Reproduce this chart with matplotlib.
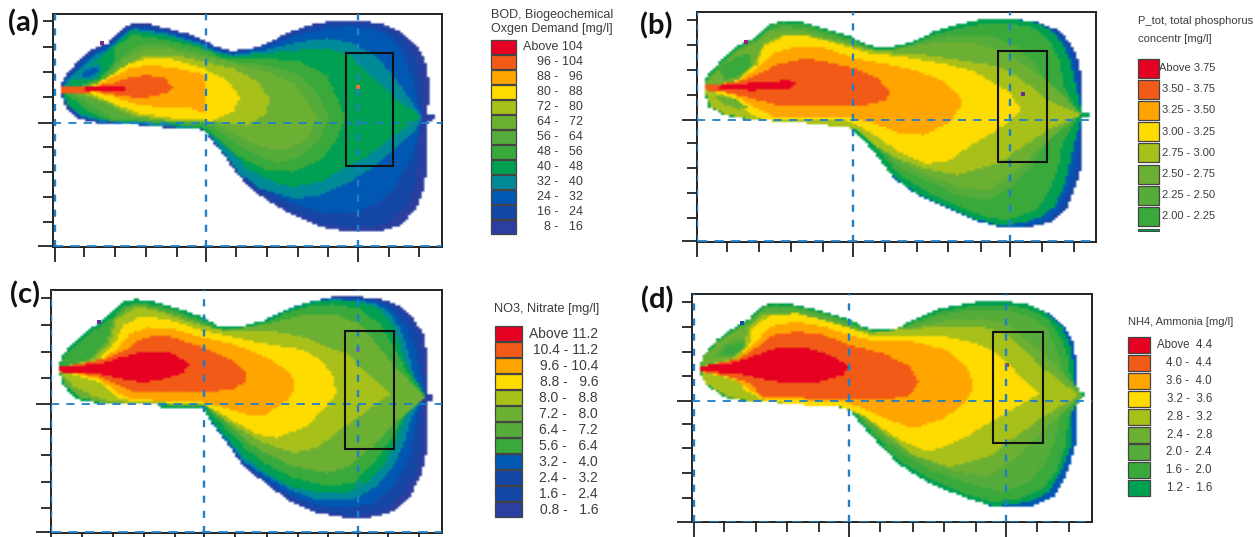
"""Four simulated plume maps (BOD, total P, nitrate, ammonia) with their legends.

Band outlines are digitised off the figure, one closed outline per concentration
class, in the plot's own x/y units. Each map is filled from outer class to inner,
and the few isolated patches in the side lobes come last.
"""
import numpy as np
import matplotlib

matplotlib.use("Agg")
import matplotlib.pyplot as plt
from matplotlib.colors import ListedColormap
from matplotlib.patches import Rectangle
from matplotlib.path import Path

C_ABOVE = "#e60022"
C_ORED = "#f25a17"
C_ORANGE = "#ffa500"
C_YELLOW = "#ffdc00"
C_LIME = "#a8c01a"
C_G1 = "#6cb033"
C_G2 = "#55ac3a"
C_G3 = "#3aa93c"
C_G4 = "#00a052"
C_TEAL = "#008a98"
C_BLUE = "#0058b2"
C_B2 = "#1547a6"
C_B3 = "#2b3f9f"

# (a) BOD
A_0 = [(185,262),(190,235),(215,205),(250,170),(290,140),(325,130),(345,105),(370,85),(405,68),(450,72),(500,85),(560,100),(610,118),(650,140),(695,152),(750,148),(800,130),(860,100),(930,75),(1000,62),(1080,62),(1150,72),(1210,100),(1250,140),(1275,180),(1285,240),(1285,300),(1282,342),(1300,345),(1300,360),(1280,362),(1282,420),(1282,500),(1270,570),(1245,630),(1200,675),(1140,692),(1040,693),(960,680),(880,645),(800,600),(740,555),(700,505),(660,450),(610,390),(580,383),(485,383),(480,370),(300,370),(240,358),(205,330),(190,300),(185,278)]
A_1 = [(188,250),(218,210),(253,175),(293,146),(328,134),(350,108),(375,90),(405,73),(450,77),(500,90),(560,105),(610,123),(650,145),(695,156),(750,152),(800,135),(860,105),(930,80),(1000,68),(1080,68),(1150,80),(1200,108),(1235,150),(1255,195),(1262,260),(1265,345),(1258,420),(1255,500),(1240,570),(1210,625),(1170,665),(1120,680),(1040,682),(960,668),(880,635),(800,590),(745,548),(705,500),(665,445),(612,385),(485,380),(300,366),(242,353),(210,325),(190,295)]
A_2 = [(188,252),(222,212),(258,180),(296,150),(335,135),(355,110),(400,80),(500,95),(600,125),(655,150),(700,160),(800,140),(870,112),(950,90),(1040,78),(1110,85),(1170,110),(1210,160),(1235,225),(1250,300),(1268,350),(1250,420),(1225,490),(1185,560),(1130,610),(1060,640),(960,635),(880,610),(800,570),(745,535),(700,490),(660,440),(610,385),(485,378),(300,364),(240,350),(210,322),(190,290)]
A_3 = [(190,258),(205,235),(240,208),(290,165),(335,140),(360,115),(400,85),(500,100),(600,130),(650,155),(700,165),(800,150),(900,125),(980,115),(1060,130),(1130,170),(1190,240),(1250,330),(1268,350),(1250,385),(1190,440),(1120,500),(1040,550),(960,585),(880,595),(780,565),(720,520),(680,470),(640,420),(610,388),(485,378),(300,362),(240,348),(210,320),(190,290)]
A_4 = [(190,262),(215,245),(255,215),(300,172),(345,135),(370,110),(400,92),(500,108),(600,135),(650,158),(700,170),(800,160),(900,150),(1000,150),(1050,165),(1130,245),(1190,300),(1265,350),(1190,400),(1100,470),(1040,500),(960,545),(880,560),(830,550),(750,510),(690,455),(640,410),(605,385),(485,370),(300,358),(240,340),(205,315),(192,285)]
A_5 = [(185,262),(230,262),(300,235),(340,190),(345,140),(400,105),(500,120),(610,145),(680,178),(800,175),(900,185),(980,225),(1010,290),(1035,350),(1010,420),(960,480),(880,515),(800,510),(720,470),(660,420),(610,380),(490,370),(330,362),(260,330),(210,290),(185,278)]
A_6 = [(185,262),(230,262),(300,240),(360,180),(420,130),(500,135),(610,160),(700,185),(800,195),(900,225),(960,290),(985,350),(960,415),(900,470),(830,490),(740,450),(680,410),(620,370),(480,365),(340,355),(280,320),(220,285),(185,278)]
A_7 = [(185,262),(230,265),(310,245),(375,175),(430,150),(520,150),(610,170),(700,190),(800,215),(880,250),(920,300),(950,350),(920,420),(850,450),(780,440),(700,400),(640,365),(480,358),(380,345),(310,310),(240,285),(185,278)]
A_8 = [(185,262),(240,265),(320,240),(380,195),(440,165),(520,165),(610,185),(700,205),(780,250),(810,300),(795,345),(740,375),(640,365),(520,365),(400,345),(320,305),(250,280),(185,278)]
A_9 = [(185,262),(260,266),(320,235),(380,195),(440,175),(520,178),(610,205),(680,240),(720,290),(700,335),(640,362),(520,355),(420,340),(340,310),(270,280),(185,278)]
A_10 = [(185,262),(270,265),(330,235),(390,205),(450,195),(530,205),(617,225),(617,340),(560,320),(480,322),(400,310),(340,290),(280,275),(185,278)]
A_11 = [(185,262),(255,262),(340,250),(380,235),(440,225),(490,232),(520,260),(500,280),(440,292),(380,290),(300,276),(185,278)]
A_12 = [(255,261),(375,261),(375,272),(255,272)]
A_LOBE_T = [(228,240),(255,205),(295,190),(310,210),(285,235)]
A_LOBE_B = [(240,232),(262,210),(290,200),(298,212),(275,228)]

# (b) total phosphorus
B_0 = [(192,255),(200,228),(240,185),(290,140),(340,115),(385,75),(430,62),(490,68),(560,88),(630,110),(670,130),(710,143),(760,140),(820,125),(880,95),(960,72),(1030,57),(1110,57),(1190,68),(1250,90),(1290,130),(1315,190),(1325,260),(1325,335),(1345,338),(1345,352),(1322,355),(1325,430),(1322,500),(1300,570),(1275,630),(1230,665),(1170,680),(1075,680),(1000,660),(920,625),(830,585),(760,535),(710,470),(670,420),(620,375),(505,372),(500,362),(330,360),(250,345),(205,320),(192,280)]
B_1 = [(192,255),(200,228),(240,185),(290,140),(340,115),(385,75),(430,62),(490,68),(560,88),(630,110),(670,130),(710,143),(760,140),(820,125),(880,95),(960,72),(1030,57),(1110,57),(1190,68),(1240,92),(1280,135),(1300,190),(1315,260),(1322,335),(1345,338),(1345,352),(1322,355),(1312,430),(1305,500),(1285,560),(1255,625),(1220,660),(1170,677),(1075,680),(1000,660),(920,625),(830,585),(760,535),(710,470),(670,420),(620,375),(505,372),(500,362),(330,360),(250,345),(205,320),(192,280)]
B_2 = [(192,255),(200,228),(240,185),(290,140),(340,115),(385,75),(430,62),(490,68),(560,88),(630,110),(670,130),(710,143),(760,140),(820,125),(880,95),(960,72),(1030,57),(1110,57),(1190,70),(1235,95),(1270,140),(1290,190),(1305,260),(1322,335),(1345,338),(1345,352),(1322,355),(1300,430),(1285,500),(1265,570),(1240,620),(1200,650),(1150,668),(1075,675),(1000,655),(920,622),(830,582),(760,532),(710,470),(670,420),(620,375),(505,372),(500,362),(330,360),(250,345),(205,320),(192,280)]
B_3 = [(192,255),(202,232),(242,190),(292,146),(342,120),(385,80),(430,68),(490,74),(560,94),(630,116),(670,136),(710,148),(760,146),(820,132),(880,105),(960,85),(1030,72),(1110,72),(1180,85),(1225,120),(1255,180),(1270,260),(1315,345),(1265,430),(1250,510),(1225,575),(1185,630),(1100,660),(1040,652),(950,618),(860,575),(780,528),(725,465),(680,415),(625,372),(505,368),(330,358),(250,342),(208,318),(194,280)]
B_4 = [(192,255),(204,236),(244,194),(294,150),(344,124),(380,92),(430,80),(490,85),(560,105),(630,125),(680,145),(720,155),(800,140),(880,115),(960,105),(1060,110),(1130,140),(1180,190),(1220,260),(1320,345),(1220,420),(1180,490),(1110,560),(1040,600),(950,585),(870,545),(790,510),(730,460),(680,410),(625,372),(505,366),(330,358),(270,340),(210,315),(192,280)]
B_5 = [(192,255),(206,240),(246,198),(296,154),(346,128),(390,95),(490,95),(600,125),(680,148),(720,152),(820,140),(900,125),(1000,130),(1100,160),(1222,245),(1320,340),(1222,420),(1130,510),(1040,570),(950,560),(800,500),(720,440),(640,380),(505,368),(330,358),(270,335),(210,310),(192,280)]
B_6 = [(192,258),(280,250),(345,190),(370,130),(430,105),(500,108),(600,130),(680,150),(760,160),(850,165),(950,180),(1073,200),(1130,230),(1222,300),(1320,345),(1222,390),(1130,450),(1073,490),(950,525),(850,505),(760,470),(700,435),(640,385),(505,370),(330,358),(260,345),(212,322),(200,285),(192,270)]
B_7 = [(192,258),(280,248),(350,195),(370,140),(430,110),(500,110),(600,135),(680,160),(780,170),(900,190),(1000,215),(1075,260),(1110,280),(1140,330),(1110,360),(1075,385),(1000,430),(920,485),(850,490),(770,455),(720,415),(660,380),(620,362),(500,360),(350,355),(320,330),(270,290),(195,270)]
B_8 = [(192,258),(290,245),(350,205),(400,160),(470,140),(540,140),(640,175),(720,190),(800,205),(900,240),(950,285),(965,310),(930,365),(850,405),(780,400),(700,370),(640,355),(500,355),(400,350),(340,320),(270,280),(195,270)]
B_9 = [(192,255),(290,248),(350,225),(410,195),(500,175),(570,190),(640,205),(710,235),(750,275),(735,300),(660,320),(560,320),(430,320),(350,300),(270,280),(192,270)]
B_10 = [(235,258),(380,245),(450,242),(470,252),(440,268),(330,272),(235,268)]
B_LOBE_T = [(235,205),(290,168),(330,165),(335,195),(300,225),(255,240)]
B_LOBE_B = [(225,285),(290,300),(325,325),(290,328),(240,308)]

# (c) nitrate
C_0 = [(178,295),(185,260),(220,220),(260,185),(300,160),(330,135),(365,100),(410,90),(470,100),(540,120),(610,145),(660,175),(720,172),(790,155),(860,120),(930,98),(1000,83),(1080,83),(1150,92),(1200,110),(1240,150),(1270,195),(1283,270),(1285,375),(1300,378),(1300,392),(1280,395),(1285,470),(1278,550),(1265,610),(1230,680),(1190,720),(1130,742),(1040,745),(950,730),(870,695),(800,645),(730,590),(680,520),(640,470),(610,420),(480,418),(475,405),(300,403),(230,390),(190,350),(180,315)]
C_1 = [(178,295),(185,260),(220,220),(260,185),(300,160),(330,135),(365,100),(410,90),(470,100),(540,120),(610,145),(660,175),(720,172),(790,155),(860,120),(930,98),(1000,85),(1080,85),(1150,97),(1195,118),(1230,155),(1255,200),(1268,270),(1270,375),(1265,395),(1268,470),(1260,550),(1245,610),(1210,670),(1170,710),(1120,733),(1040,738),(950,722),(870,690),(800,640),(730,585),(680,520),(640,470),(610,420),(480,418),(475,405),(300,403),(230,390),(190,350),(180,315)]
C_2 = [(178,295),(185,260),(220,220),(260,185),(300,160),(330,135),(365,100),(410,90),(470,100),(540,120),(610,145),(660,175),(720,172),(790,155),(860,120),(930,98),(1000,87),(1080,90),(1140,100),(1180,125),(1215,170),(1240,220),(1255,290),(1275,375),(1250,440),(1235,530),(1210,600),(1170,660),(1120,700),(1040,715),(950,705),(870,675),(800,630),(730,580),(680,515),(640,470),(610,420),(480,418),(475,405),(300,403),(230,390),(190,350),(180,315)]
C_3 = [(178,295),(185,260),(220,220),(260,185),(300,160),(330,135),(365,100),(410,90),(470,100),(540,120),(610,145),(660,175),(720,172),(790,155),(860,120),(930,98),(1000,90),(1080,95),(1130,105),(1170,135),(1200,180),(1225,250),(1240,320),(1275,375),(1235,440),(1215,510),(1180,590),(1130,650),(1060,690),(950,690),(870,660),(800,620),(730,575),(680,510),(640,465),(610,420),(480,418),(475,405),(300,403),(230,390),(190,350),(180,315)]
C_4 = [(178,295),(185,260),(220,220),(260,185),(300,160),(330,135),(365,100),(410,90),(470,100),(540,120),(610,145),(660,175),(720,172),(790,155),(860,125),(930,100),(1000,92),(1060,95),(1130,115),(1165,150),(1190,200),(1215,280),(1275,380),(1215,440),(1190,510),(1150,590),(1100,640),(1040,670),(960,670),(870,650),(790,605),(730,560),(680,505),(640,460),(610,420),(480,418),(475,405),(300,403),(230,390),(190,350),(180,315)]
C_5 = [(178,295),(190,265),(226,228),(266,194),(306,168),(338,144),(368,112),(410,100),(470,108),(540,128),(610,155),(660,180),(720,178),(790,162),(860,130),(930,110),(1000,105),(1080,120),(1140,165),(1185,240),(1220,310),(1275,385),(1215,435),(1180,500),(1130,570),(1060,640),(980,650),(880,625),(800,585),(740,540),(680,480),(640,440),(610,408),(480,405),(300,400),(240,370),(190,335),(178,305)]
C_6 = [(178,295),(270,270),(320,215),(340,150),(400,105),(470,118),(540,138),(610,165),(660,185),(700,180),(800,165),(900,140),(1000,135),(1080,165),(1183,290),(1275,385),(1183,460),(1120,530),(1050,590),(980,610),(880,590),(790,550),(720,500),(670,450),(620,410),(300,400),(240,385),(195,345),(182,310)]
C_7 = [(178,295),(280,272),(330,220),(350,150),(410,115),(470,125),(540,150),(610,170),(680,185),(800,185),(900,200),(1000,240),(1036,250),(1170,375),(1036,470),(950,535),(880,550),(790,520),(720,480),(660,440),(615,405),(480,405),(340,398),(280,380),(220,350),(190,320),(178,305)]
C_8 = [(178,295),(290,280),(345,220),(370,170),(420,142),(500,150),(610,185),(700,205),(800,225),(900,240),(960,270),(1000,320),(1008,370),(980,410),(920,470),(830,505),(770,495),(700,455),(650,425),(610,405),(400,395),(350,385),(300,340),(178,305)]
C_9 = [(178,295),(300,275),(350,240),(390,195),(440,175),(520,180),(610,205),(700,225),(800,265),(870,310),(885,350),(865,390),(800,435),(750,440),(690,420),(620,400),(400,390),(350,370),(300,330),(178,305)]
C_10 = [(178,295),(310,270),(380,240),(430,205),(500,200),(610,235),(690,270),(740,310),(740,335),(700,360),(610,370),(400,368),(340,340),(290,320),(178,305)]
C_11 = [(178,292),(300,285),(360,265),(430,248),(510,250),(570,285),(550,310),(490,330),(430,340),(370,330),(300,315),(178,308)]

# (d) ammonia
D_0 = [(212,295),(218,260),(260,210),(310,175),(360,145),(400,105),(440,98),(500,105),(570,122),(650,145),(700,170),(740,180),(800,175),(860,145),(930,115),(1040,95),(1130,93),(1200,105),(1260,130),(1300,165),(1330,220),(1340,290),(1340,365),(1360,368),(1360,382),(1338,385),(1340,460),(1335,530),(1310,610),(1270,680),(1200,710),(1090,710),(1000,680),(900,640),(810,585),(745,520),(700,470),(660,420),(620,410),(525,405),(520,395),(350,393),(290,385),(230,345),(215,320)]
D_1 = [(212,295),(218,260),(260,210),(310,175),(360,145),(400,105),(440,98),(500,105),(570,122),(650,145),(700,170),(740,180),(800,175),(860,145),(930,115),(1040,95),(1130,93),(1200,105),(1255,132),(1295,170),(1320,225),(1330,290),(1330,365),(1360,368),(1360,382),(1328,385),(1325,460),(1320,530),(1295,600),(1255,665),(1200,695),(1090,708),(1000,680),(900,640),(810,585),(745,520),(700,470),(660,420),(620,410),(525,405),(520,395),(350,393),(290,385),(230,345),(215,320)]
D_2 = [(212,295),(218,262),(260,215),(310,180),(360,150),(400,110),(440,103),(500,110),(570,127),(650,150),(700,174),(740,184),(800,180),(860,150),(930,125),(1040,105),(1130,105),(1200,118),(1250,145),(1285,190),(1310,250),(1320,320),(1358,375),(1315,440),(1305,530),(1280,600),(1240,655),(1170,685),(1090,695),(1000,670),(900,625),(815,575),(750,515),(705,465),(660,418),(620,408),(525,403),(350,391),(290,383),(232,343),(216,320)]
D_3 = [(212,290),(220,262),(262,216),(312,182),(362,152),(410,115),(500,115),(570,132),(650,155),(700,178),(760,185),(860,160),(930,135),(1040,118),(1130,120),(1200,140),(1250,175),(1280,240),(1300,310),(1358,375),(1290,435),(1275,510),(1240,590),(1190,640),(1110,665),(1020,640),(900,600),(830,560),(760,505),(710,460),(665,415),(620,406),(525,401),(350,390),(290,380),(235,340),(218,315)]
D_4 = [(212,290),(222,264),(265,220),(315,186),(365,156),(392,128),(420,125),(500,125),(570,145),(650,165),(710,185),(780,190),(860,170),(950,150),(1050,145),(1127,160),(1240,250),(1355,375),(1240,480),(1150,570),(1070,620),(960,600),(860,560),(780,510),(720,460),(670,425),(620,405),(525,400),(300,383),(240,345),(218,312)]
D_5 = [(212,290),(240,280),(300,268),(345,220),(360,170),(400,135),(500,132),(570,150),(650,170),(720,190),(840,175),(950,170),(1050,170),(1127,190),(1240,295),(1345,375),(1240,440),(1127,520),(1090,555),(960,590),(850,555),(780,500),(720,450),(660,410),(525,404),(340,390),(290,375),(225,340),(215,305)]
D_6 = [(212,290),(320,275),(360,220),(365,175),(420,138),(500,130),(580,150),(660,175),(720,195),(850,195),(950,200),(1040,220),(1090,245),(1230,370),(1090,450),(1000,505),(900,545),(830,520),(750,470),(690,430),(630,410),(525,405),(400,390),(345,360),(320,330),(218,305)]
D_7 = [(212,292),(320,270),(380,215),(420,170),(500,155),(580,170),(660,195),(720,210),(850,215),(950,240),(1010,290),(1030,345),(1010,395),(940,445),(850,475),(780,450),(700,415),(640,395),(400,385),(360,360),(310,325),(215,305)]
D_8 = [(212,292),(330,265),(390,225),(430,195),(500,185),(580,195),(660,225),(760,250),(840,290),(865,335),(840,375),(760,390),(400,380),(360,340),(300,320),(215,305)]
D_9 = [(212,288),(310,278),(380,255),(440,235),(520,230),(600,255),(660,290),(640,315),(570,335),(470,340),(390,325),(320,310),(212,303)]
D_LOBE_T = [(250,262),(285,220),(340,200),(348,230),(310,262)]
D_LOBE_B = [(272,250),(298,226),(340,216),(340,238),(308,254)]

A_BANDS = [A_0, A_1, A_2, A_3, A_4, A_5, A_6, A_7, A_8, A_9, A_10, A_11, A_12, A_LOBE_T, A_LOBE_B]
B_BANDS = [B_0, B_1, B_2, B_3, B_4, B_5, B_6, B_7, B_8, B_9, B_10, B_LOBE_T, B_LOBE_B]
C_BANDS = [C_0, C_1, C_2, C_3, C_4, C_5, C_6, C_7, C_8, C_9, C_10, C_11]
D_BANDS = [D_0, D_1, D_2, D_3, D_4, D_5, D_6, D_7, D_8, D_9, D_LOBE_T, D_LOBE_B]

A_COLORS = [C_B3, C_B2, C_BLUE, C_TEAL, C_G4, C_G3, C_G2, C_G1, C_LIME, C_YELLOW, C_ORANGE, C_ORED, C_ABOVE, C_TEAL, C_BLUE]
B_COLORS = [C_B2, C_BLUE, C_G4, C_G3, C_G2, C_G1, C_LIME, C_YELLOW, C_ORANGE, C_ORED, C_ABOVE, C_G3, C_G1]
C_COLORS = [C_B3, C_B2, C_BLUE, C_TEAL, C_G4, C_G3, C_G1, C_LIME, C_YELLOW, C_ORANGE, C_ORED, C_ABOVE]
D_COLORS = [C_BLUE, C_G4, C_G3, C_G2, C_G1, C_LIME, C_YELLOW, C_ORANGE, C_ORED, C_ABOVE, C_G2, C_G3]

# ticks and station lines
A_XTICKS = [165, 252, 345, 437, 530, 617, 708, 800, 893, 985, 1073, 1167, 1258]
A_YTICKS = [63, 140, 216, 292, 368, 440, 515, 590, 665, 738]
B_XTICKS = [172, 262, 357, 453, 550, 638, 735, 830, 925, 1022, 1110, 1207, 1302]
B_YTICKS = [60, 135, 210, 285, 360, 430, 503, 578, 653, 722]
C_XTICKS = [153, 245, 338, 432, 525, 612, 705, 800, 893, 985, 1073, 1165, 1258]
C_YTICKS = [85, 165, 245, 325, 403, 478, 556, 635, 715, 787]
D_XTICKS = [192, 282, 378, 472, 568, 657, 750, 848, 942, 1038, 1127, 1222, 1318]
D_YTICKS = [95, 170, 245, 318, 392, 462, 535, 610, 685, 755]

# legends
A_TITLE = "BOD, Biogeochemical\nOxgen Demand [mg/l]"
A_LABELS = ["Above 104", "96 - 104", "88 -   96", "80 -   88", "72 -   80", "64 -   72", "56 -   64",
            "48 -   56", "40 -   48", "32 -   40", "24 -   32", "16 -   24", "8 -   16"]
B_TITLE = "P_tot, total phosphorus\nconcentr [mg/l]"
B_LABELS = ["Above 3.75", "3.50 - 3.75", "3.25 - 3.50", "3.00 - 3.25", "2.75 - 3.00", "2.50 - 2.75",
            "2.25 - 2.50", "2.00 - 2.25"]
C_TITLE = "NO3, Nitrate [mg/l]"
C_LABELS = ["Above 11.2", "10.4 - 11.2", "9.6 - 10.4", "8.8 -   9.6", "8.0 -   8.8", "7.2 -   8.0",
            "6.4 -   7.2", "5.6 -   6.4", "3.2 -   4.0", "2.4 -   3.2", "1.6 -   2.4", "0.8 -   1.6"]
D_TITLE = "NH4, Ammonia [mg/l]"
D_LABELS = ["Above  4.4", "4.0 -  4.4", "3.6 -  4.0", "3.2 -  3.6", "2.8 -  3.2", "2.4 -  2.8",
            "2.0 -  2.4", "1.6 -  2.0", "1.2 -  1.6"]
A_SWATCH = [C_ABOVE, C_ORED, C_ORANGE, C_YELLOW, C_LIME, C_G1, C_G2, C_G3, C_G4, C_TEAL, C_BLUE, C_B2, C_B3]
B_SWATCH = [C_ABOVE, C_ORED, C_ORANGE, C_YELLOW, C_LIME, C_G1, C_G2, C_G3]
C_SWATCH = [C_ABOVE, C_ORED, C_ORANGE, C_YELLOW, C_LIME, C_G1, C_G2, C_G3, C_BLUE, C_B2, C_B2, C_B3]
D_SWATCH = [C_ABOVE, C_ORED, C_ORANGE, C_YELLOW, C_LIME, C_G1, C_G2, C_G3, C_G4]

W, H = 1255, 537
LINE = "#1f7fc8"
SANS = ["Liberation Sans", "DejaVu Sans"]

fig = plt.figure(figsize=(W / 100, H / 100), dpi=100)


def draw_map(ox, oy, lim, bands, colors, xticks, yticks, rect, specks):
    """lim is left, right, top, bottom of the frame, in the 3x units of the outlines."""
    left, right, top, bottom = lim
    ax = fig.add_axes([(ox + left / 3) / W, 1 - (oy + bottom / 3) / H,
                       (right - left) / 3 / W, (bottom - top) / 3 / H])
    xe = np.arange(left, right + 8, 8)
    ye = np.arange(top, bottom + 7, 7)
    xc, yc = np.meshgrid((xe[:-1] + xe[1:]) / 2, (ye[:-1] + ye[1:]) / 2)
    pts = np.column_stack([xc.ravel(), yc.ravel()])
    level = np.zeros(len(pts), dtype=int)
    for i, band in enumerate(bands):
        level[Path(band + band[:1]).contains_points(pts)] = i + 1
    # the source map is a slightly soft raster, so blend in colour space
    ax.imshow(level.reshape(xc.shape), cmap=ListedColormap(["white"] + colors), vmin=-0.5,
              vmax=len(colors) + 0.5, extent=(xe[0], xe[-1], ye[-1], ye[0]), aspect="auto",
              interpolation="bilinear", interpolation_stage="rgba")
    for x, y, c in specks:
        ax.plot(x, y, "s", ms=2.6, color=c, mew=0)

    long_x = [xticks[0], xticks[5], xticks[10]]
    long_y = [yticks[4], yticks[9]]
    ax.set_xticks(long_x)
    ax.set_yticks(long_y)
    ax.set_xticks([v for v in xticks if v not in long_x], minor=True)
    ax.set_yticks([v for v in yticks if v not in long_y], minor=True)
    ax.tick_params(which="major", length=11, width=1.3, color="#222222", labelbottom=False, labelleft=False)
    ax.tick_params(which="minor", length=7, width=1.3, color="#222222")
    ax.set_xlim(left, right)
    ax.set_ylim(bottom, top)

    for v in long_x:
        ax.axvline(v, color=LINE, lw=1.7, dashes=(3, 3.4), zorder=3)
    ax.axhline(long_y[0], color=LINE, lw=1.3, dashes=(4.5, 4), zorder=3)
    ax.axhline(long_y[1], color=LINE, lw=2.0, dashes=(3.5, 2.5), zorder=3)
    ax.add_patch(Rectangle((rect[0], rect[1]), rect[2] - rect[0], rect[3] - rect[1], fill=False,
                           ec="#111111", lw=1.5, zorder=4))
    for s in ax.spines.values():
        s.set_linewidth(1.4)
        s.set_color("#222222")
    return ax


draw_map(0, 0, (160, 1325, 42, 740), A_BANDS, A_COLORS, A_XTICKS, A_YTICKS, (1038, 158, 1180, 497),
         [(1075, 260, "#f0703a"), (305, 130, "#7a2a90")])
draw_map(640, 0, (170, 1368, 37, 725), B_BANDS, B_COLORS, B_XTICKS, B_YTICKS, (1073, 152, 1222, 487),
         [(317, 125, "#a02080"), (1150, 282, "#6a2aa0")])
draw_map(0, 270, (153, 1325, 60, 790), C_BANDS, C_COLORS, C_XTICKS, C_YTICKS, (1036, 183, 1183, 537),
         [(298, 155, "#6a2aa0"), (1075, 240, "#c050a0")])
draw_map(630, 270, (187, 1385, 72, 755), D_BANDS, D_COLORS, D_XTICKS, D_YTICKS, (1090, 187, 1240, 520),
         [(335, 160, "#1547a6"), (1130, 285, "#c04040")])

# legends and panel letters sit on an overlay in image pixels
ov = fig.add_axes([0, 0, 1, 1], facecolor="none")
ov.set_xlim(0, W)
ov.set_ylim(H, 0)
ov.axis("off")


def draw_legend(title, labels, swatch, title_xy, x0, x1, y0, dy, box_h, text_x, size, title_size, spacing=1.25):
    ov.text(title_xy[0], title_xy[1], title, fontsize=title_size, family=SANS, color="#3c3c3c",
            va="top", ha="left", linespacing=spacing)
    for i, (lab, col) in enumerate(zip(labels, swatch)):
        yc = y0 + i * dy
        ov.add_patch(Rectangle((x0, yc - box_h / 2), x1 - x0, box_h, fc=col, ec="#444444", lw=0.9))
        ov.text(text_x, yc, lab, fontsize=size, family=SANS, color="#3c3c3c", ha="right", va="center")


draw_legend(A_TITLE, A_LABELS, A_SWATCH, (491, 9), 491, 516, 47.3, 15, 14, 583, 9, 9)
draw_legend(B_TITLE, B_LABELS, B_SWATCH, (1138, 16), 1138, 1159, 68, 21.2, 19, 1215, 8, 8, spacing=2.0)
ov.add_patch(Rectangle((1138, 229), 21, 1.5, fc=C_G4, ec="#333333", lw=0.6))
draw_legend(C_TITLE, C_LABELS, C_SWATCH, (494, 303), 495, 522, 333.5, 16, 15, 598, 10, 9.2)
draw_legend(D_TITLE, D_LABELS, D_SWATCH, (1128, 317), 1128, 1150, 345, 17.9, 16, 1212, 8.3, 8)

for letter, x, y in [("(a)", 8, 23), ("(b)", 640, 26), ("(c)", 10, 295), ("(d)", 641, 300)]:
    ov.text(x, y, letter, fontsize=21, fontweight="bold", family=["Lato", "DejaVu Sans"],
            color="#111111", ha="left", va="center")

fig.savefig("out.png", dpi=100)
